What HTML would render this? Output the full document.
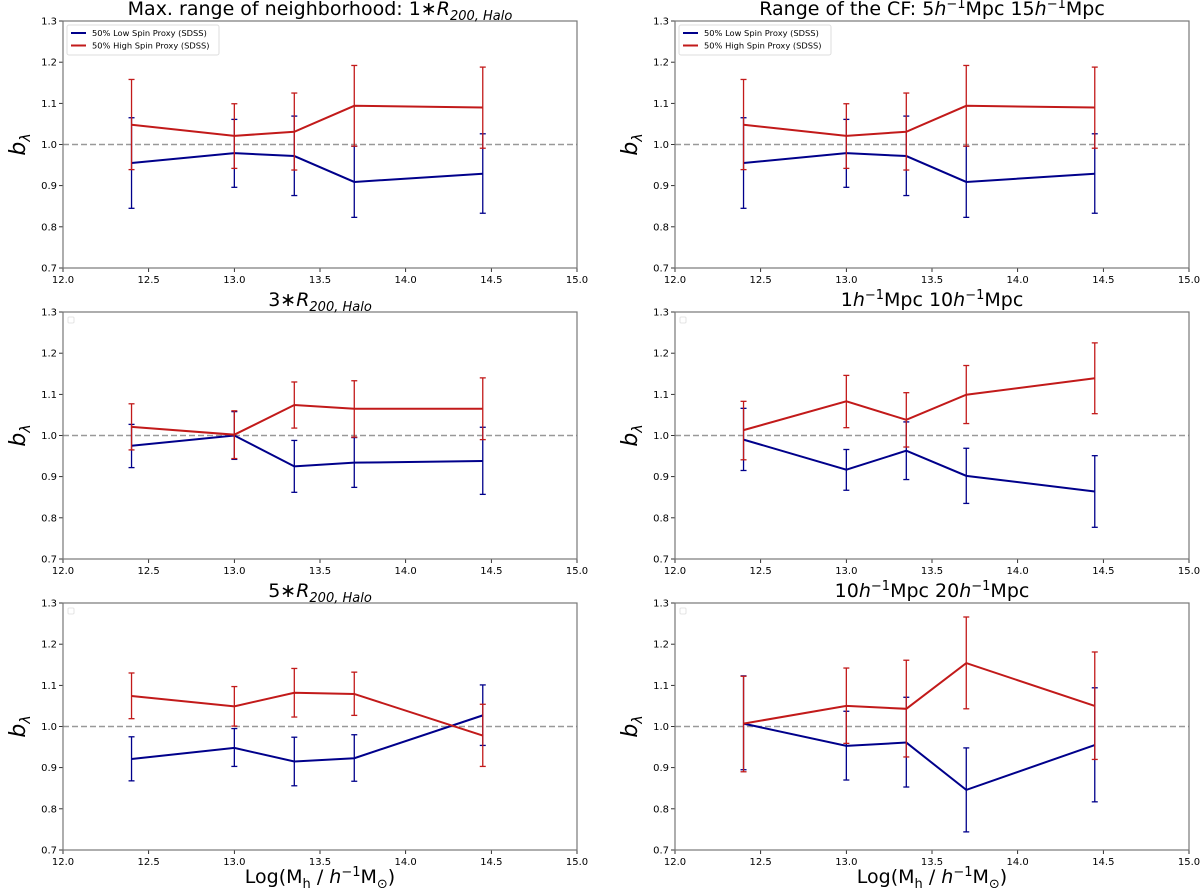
<!DOCTYPE html>
<html><head><meta charset="utf-8"><style>
html,body{margin:0;padding:0;background:#fff;width:1200px;height:888px;overflow:hidden}
svg{display:block;font-family:"DejaVu Sans","Liberation Sans",sans-serif}
</style></head><body>
<svg id="fig" width="1200" height="888" viewBox="0 0 1200 888" xmlns="http://www.w3.org/2000/svg"></svg>
<script>
const massBins = [12.4, 13.0, 13.35, 13.7, 14.45];
const xTicks = [12.0, 12.5, 13.0, 13.5, 14.0, 14.5, 15.0];
const yTicks = [0.7, 0.8, 0.9, 1.0, 1.1, 1.2, 1.3];
// panel 1 & 2 (identical)
const p1Low = [0.955, 0.979, 0.972, 0.909, 0.929];
const p1LowLo = [0.845, 0.896, 0.876, 0.823, 0.833];
const p1LowHi = [1.065, 1.061, 1.069, 0.996, 1.026];
const p1High = [1.048, 1.021, 1.031, 1.094, 1.090];
const p1HighLo = [0.939, 0.942, 0.938, 0.996, 0.991];
const p1HighHi = [1.158, 1.099, 1.125, 1.192, 1.188];
// panel 3 (3*R200)
const p3Low = [0.975, 1.000, 0.925, 0.934, 0.938];
const p3LowLo = [0.922, 0.942, 0.862, 0.874, 0.857];
const p3LowHi = [1.027, 1.058, 0.988, 0.995, 1.020];
const p3High = [1.021, 1.002, 1.074, 1.065, 1.065];
const p3HighLo = [0.965, 0.944, 1.018, 0.996, 0.990];
const p3HighHi = [1.077, 1.060, 1.130, 1.133, 1.140];
// panel 4 (1-10 Mpc)
const p4Low = [0.990, 0.917, 0.963, 0.902, 0.864];
const p4LowLo = [0.915, 0.867, 0.893, 0.835, 0.777];
const p4LowHi = [1.066, 0.966, 1.033, 0.969, 0.951];
const p4High = [1.013, 1.083, 1.038, 1.099, 1.139];
const p4HighLo = [0.941, 1.019, 0.972, 1.029, 1.053];
const p4HighHi = [1.083, 1.146, 1.104, 1.170, 1.225];
// panel 5 (5*R200)
const p5Low = [0.921, 0.948, 0.915, 0.923, 1.027];
const p5LowLo = [0.868, 0.903, 0.856, 0.867, 0.954];
const p5LowHi = [0.975, 0.995, 0.974, 0.980, 1.101];
const p5High = [1.074, 1.049, 1.082, 1.079, 0.978];
const p5HighLo = [1.019, 1.001, 1.023, 1.027, 0.903];
const p5HighHi = [1.130, 1.097, 1.141, 1.132, 1.054];
// panel 6 (10-20 Mpc)
const p6Low = [1.007, 0.953, 0.961, 0.846, 0.955];
const p6LowLo = [0.895, 0.870, 0.853, 0.744, 0.817];
const p6LowHi = [1.123, 1.037, 1.071, 0.948, 1.094];
const p6High = [1.007, 1.050, 1.043, 1.154, 1.050];
const p6HighLo = [0.890, 0.959, 0.926, 1.043, 0.920];
const p6HighHi = [1.122, 1.142, 1.161, 1.266, 1.181];

const NS = "http://www.w3.org/2000/svg";
const svg = document.getElementById('fig');
function mk(tag, attrs, parent){const e=document.createElementNS(NS,tag);for(const k in attrs)e.setAttribute(k,attrs[k]);(parent||svg).appendChild(e);return e;}

const BLUE="#00008b", RED="#c21a1a";
const panels = [
  {x0:63,x1:577,y0:21,y1:268,title:'Max. range of neighborhood: 1<tspan font-style="italic">∗R</tspan><tspan font-size="13" dy="5" font-style="italic">200, Halo</tspan>',legend:true,name:'panel-1r200',d:[p1Low,p1LowLo,p1LowHi,p1High,p1HighLo,p1HighHi]},
  {x0:675,x1:1189,y0:21,y1:268,title:'Range of the CF: 5<tspan font-style="italic">h</tspan><tspan font-size="13" dy="-7">−1</tspan><tspan dy="7">Mpc 15</tspan><tspan font-style="italic">h</tspan><tspan font-size="13" dy="-7">−1</tspan><tspan dy="7">Mpc</tspan>',legend:true,name:'panel-5-15mpc',d:[p1Low,p1LowLo,p1LowHi,p1High,p1HighLo,p1HighHi]},
  {x0:63,x1:577,y0:312,y1:559,title:'3<tspan font-style="italic">∗R</tspan><tspan font-size="13" dy="5" font-style="italic">200, Halo</tspan>',legend:false,name:'panel-3r200',d:[p3Low,p3LowLo,p3LowHi,p3High,p3HighLo,p3HighHi]},
  {x0:675,x1:1189,y0:312,y1:559,title:'1<tspan font-style="italic">h</tspan><tspan font-size="13" dy="-7">−1</tspan><tspan dy="7">Mpc 10</tspan><tspan font-style="italic">h</tspan><tspan font-size="13" dy="-7">−1</tspan><tspan dy="7">Mpc</tspan>',legend:false,name:'panel-1-10mpc',d:[p4Low,p4LowLo,p4LowHi,p4High,p4HighLo,p4HighHi]},
  {x0:63,x1:577,y0:603,y1:850,title:'5<tspan font-style="italic">∗R</tspan><tspan font-size="13" dy="5" font-style="italic">200, Halo</tspan>',legend:false,xlabel:true,name:'panel-5r200',d:[p5Low,p5LowLo,p5LowHi,p5High,p5HighLo,p5HighHi]},
  {x0:675,x1:1189,y0:603,y1:850,title:'10<tspan font-style="italic">h</tspan><tspan font-size="13" dy="-7">−1</tspan><tspan dy="7">Mpc 20</tspan><tspan font-style="italic">h</tspan><tspan font-size="13" dy="-7">−1</tspan><tspan dy="7">Mpc</tspan>',legend:false,xlabel:true,name:'panel-10-20mpc',d:[p6Low,p6LowLo,p6LowHi,p6High,p6HighLo,p6HighHi]},
];

panels.forEach(p=>{
  const g = mk('g',{});
  
  
  const X = v => p.x0 + (v-12)/(15-12)*(p.x1-p.x0);
  const Y = v => p.y1 - (v-0.7)/(1.3-0.7)*(p.y1-p.y0);
  const ref = mk('line',{x1:p.x0,x2:p.x1,y1:Y(1),y2:Y(1),stroke:'#999','stroke-width':1.4,'stroke-dasharray':'6,3'},g);
  
  
  xTicks.forEach(t=>{
    mk('line',{x1:X(t),x2:X(t),y1:p.y1,y2:p.y1+4,stroke:'#000','stroke-width':0.8},g);
    const tx = mk('text',{x:X(t),y:p.y1+15,'font-size':10,'text-anchor':'middle',fill:'#000'},g);
    tx.textContent=t.toFixed(1);
    
    
  });
  yTicks.forEach(t=>{
    mk('line',{x1:p.x0-4,x2:p.x0,y1:Y(t),y2:Y(t),stroke:'#000','stroke-width':0.8},g);
    const ty = mk('text',{x:p.x0-6,y:Y(t)+3.5,'font-size':10,'text-anchor':'end',fill:'#000'},g);
    ty.textContent=t.toFixed(1);
    
    
  });
  const series=[[p.d[0],p.d[1],p.d[2],BLUE,'low-spin'],[p.d[3],p.d[4],p.d[5],RED,'high-spin']];
  series.forEach(([v,lo,hi,c,nm])=>{
    massBins.forEach((m,i)=>{
      const eb = mk('g',{stroke:c,'stroke-width':1.3},g);
      
      
      mk('line',{x1:X(m),x2:X(m),y1:Y(lo[i]),y2:Y(hi[i])},eb);
      mk('line',{x1:X(m)-3,x2:X(m)+3,y1:Y(lo[i]),y2:Y(lo[i])},eb);
      mk('line',{x1:X(m)-3,x2:X(m)+3,y1:Y(hi[i]),y2:Y(hi[i])},eb);
    });
    const pl = mk('polyline',{points:massBins.map((m,i)=>X(m)+','+Y(v[i])).join(' '),fill:'none',stroke:c,'stroke-width':2},g);
    
    
  });
  const fr = mk('rect',{x:p.x0,y:p.y0,width:p.x1-p.x0,height:p.y1-p.y0,fill:'none',stroke:'#777','stroke-width':1.2},g);
  
  
  const tt = mk('text',{x:(p.x0+p.x1)/2,y:p.y0-6,'font-size':19,'text-anchor':'middle',fill:'#000'},g);
  tt.innerHTML=p.title;
  
  
  const yl = mk('text',{x:0,y:0,'font-size':22,'text-anchor':'middle',fill:'#000',transform:`translate(${p.x0-38},${(p.y0+p.y1)/2}) rotate(-90)`},g);
  yl.innerHTML='<tspan font-style="italic">b</tspan><tspan font-size="14" dy="5" font-style="italic">λ</tspan>';
  
  
  if(p.xlabel){
    const xl = mk('text',{x:(p.x0+p.x1)/2,y:p.y1+33,'font-size':19,'text-anchor':'middle',fill:'#000'},g);
    xl.innerHTML='Log(M<tspan font-size="13" dy="5">h</tspan><tspan dy="-5"> / </tspan><tspan font-style="italic">h</tspan><tspan font-size="13" dy="-7">−1</tspan><tspan dy="7">M</tspan><tspan font-size="13" dy="5">⊙</tspan><tspan dy="-5">)</tspan>';
    
    
  }
  if(p.legend){
    const lg = mk('g',{},g);
    
    
    mk('rect',{x:p.x0+4,y:p.y0+4,width:152,height:30,fill:'#fff',stroke:'#ddd','stroke-width':1,rx:2},lg);
    [[BLUE,'50% Low Spin Proxy (SDSS)'],[RED,'50% High Spin Proxy (SDSS)']].forEach(([c,t],k)=>{
      const yy=p.y0+12+k*12.5;
      mk('line',{x1:p.x0+8,x2:p.x0+23,y1:yy,y2:yy,stroke:c,'stroke-width':2},lg);
      const lt = mk('text',{x:p.x0+29,y:yy+3,'font-size':8.3,fill:'#000'},lg);
      lt.textContent=t;
      
      
    });
  } else {
    const eb = mk('rect',{x:p.x0+5,y:p.y0+5,width:6,height:6,fill:'#fff',stroke:'#ddd','stroke-width':0.8,rx:1},g);
    
    
  }
});
</script>
</body></html>
